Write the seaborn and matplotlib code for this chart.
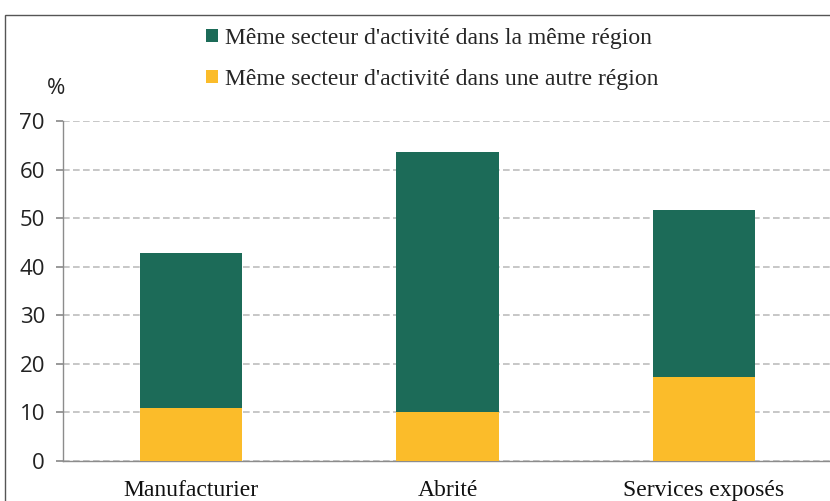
import matplotlib
matplotlib.use("Agg")
import matplotlib.pyplot as plt
import seaborn as sns
import pandas as pd
from matplotlib.patches import Patch, Rectangle

categories = ["Manufacturier", "Abrité", "Services exposés"]
autre_region = [10.9, 10.0, 17.3]
meme_region = [31.9, 53.6, 34.4]
labels = ["Même secteur d'activité dans la même région",
          "Même secteur d'activité dans une autre région"]
yticks = [0, 10, 20, 30, 40, 50, 60, 70]

green = "#1c6b58"
yellow = "#fbbc2a"

sns.set_theme(style="white")
plt.rcParams['font.family'] = ['Open Sans', 'DejaVu Sans']

df = pd.DataFrame({"cat": categories,
                   "autre": autre_region,
                   "total": [a + b for a, b in zip(autre_region, meme_region)]})

fig = plt.figure(figsize=(8.30, 5.01), dpi=100)
ax = fig.add_axes([63/830, 40/501, 769/830, 340/501])

sns.barplot(data=df, x="cat", y="total", color=green, width=0.4, ax=ax,
            saturation=1, zorder=3, linewidth=0)
sns.barplot(data=df, x="cat", y="autre", color=yellow, width=0.4, ax=ax,
            saturation=1, zorder=3, linewidth=0)

ax.set_xlim(-0.5, 2.5)
ax.set_ylim(0, 70)
ax.set_yticks(yticks)
ax.set_yticklabels([str(t) for t in yticks], fontsize=16, color="#222222")
ax.set_xlabel("")
ax.set_ylabel("")
ax.yaxis.grid(True, linestyle=(0, (4, 2)), color="#bdbdbd", linewidth=1.2, zorder=0)
ax.set_axisbelow(True)

for s in ["top", "right"]:
    ax.spines[s].set_visible(False)
for s in ["left", "bottom"]:
    ax.spines[s].set_color("#8c8c8c")
    ax.spines[s].set_linewidth(1.0)

ax.set_xticks([0, 1, 2])
ax.set_xticklabels(categories, fontsize=17, family=["Liberation Serif"], color="#111111")
ax.set_xticks([-0.5, 0.5, 1.5, 2.5], minor=True)
ax.tick_params(axis="x", which="major", length=0, pad=14)
ax.tick_params(axis="x", which="minor", length=6, color="#8c8c8c", direction="out")
ax.tick_params(axis="y", length=5, color="#8c8c8c", direction="out", left=True, pad=8)

fig.text(56/830, 1 - 89/501, "%", fontsize=16, ha="center", va="center", color="#222222")

handles = [Patch(facecolor=green, edgecolor="none"), Patch(facecolor=yellow, edgecolor="none")]
fig.legend(handles, labels, loc="center", bbox_to_anchor=(432/830, 1 - 59/501),
           frameon=False, ncol=1, handlelength=0.5, handleheight=0.5,
           handletextpad=0.3, labelspacing=0.85,
           prop={"family": "Liberation Serif", "size": 17})

fig.add_artist(Rectangle((5/830, -0.02), 1.0, 1 - 15/501 + 0.02, transform=fig.transFigure,
                         fill=False, edgecolor="#555555", linewidth=1.0))

fig.savefig("out.png", dpi=100)
